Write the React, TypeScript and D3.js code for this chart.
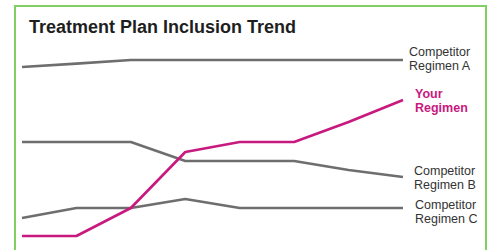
import React from 'react';
import * as d3 from 'd3';

const WIDTH = 489;
const HEIGHT = 250;

const periods = ['P1', 'P2', 'P3', 'P4', 'P5', 'P6', 'P7', 'P8'];
const competitorA = [91.5, 93.2, 95, 95, 95, 95, 95, 95];
const yourRegimen = [7, 7, 21, 49, 54, 54, 64, 75];
const competitorB = [54, 54, 54, 44.5, 44.5, 44.5, 40, 36.5];
const competitorC = [16, 21, 21, 25.5, 21, 21, 21, 21];

const GREY = '#6e6e6e';
const PINK = '#c8197f';

const series = [
  { name: 'Competitor A', values: competitorA, color: GREY, labels: ['Competitor', 'Regimen A'], bold: false, textColor: '#333', lx: 409, ly: 56 },
  { name: 'Competitor B', values: competitorB, color: GREY, labels: ['Competitor', 'Regimen B'], bold: false, textColor: '#333', lx: 414, ly: 175 },
  { name: 'Competitor C', values: competitorC, color: GREY, labels: ['Competitor', 'Regimen C'], bold: false, textColor: '#333', lx: 415, ly: 209 },
  { name: 'Your Regimen', values: yourRegimen, color: PINK, labels: ['Your', 'Regimen'], bold: true, textColor: PINK, lx: 415, ly: 98 },
];

const App = () => {
  const xScale = d3.scalePoint<number>().domain(periods.map((_, i) => i)).range([22, 403]);
  const yScale = d3.scaleLinear().domain([0, 100]).range([250, 50]);

  const line = d3
    .line<number>()
    .x((_, i) => xScale(i) as number)
    .y((d) => yScale(d));

  return (
    <svg width={WIDTH} height={HEIGHT} style={{ position: 'absolute', left: 0, top: 0 }}>
      <rect x={0} y={0} width={WIDTH} height={HEIGHT} fill="#fff" />
      <rect x={15} y={6} width={471} height={270} fill="none" stroke="#7fcf62" strokeWidth={2} />
      <text x={29} y={33} fontFamily="Liberation Sans, Arial, sans-serif" fontWeight="bold" fontSize={18} fill="#1e1e1e">
        Treatment Plan Inclusion Trend
      </text>
      {series.map((s) => (
        <path key={s.name} d={line(s.values) || ''} fill="none" stroke={s.color} strokeWidth={2.6} strokeLinejoin="round" />
      ))}
      {series.map((s) => (
        <text key={s.name + '-label'} fontFamily="Liberation Sans, Arial, sans-serif" fontSize={12.5} fontWeight={s.bold ? 'bold' : 'normal'} fill={s.textColor}>
          {s.labels.map((t, i) => (
            <tspan key={t} x={s.lx} y={s.ly + i * 13.5}>{t}</tspan>
          ))}
        </text>
      ))}
    </svg>
  );
};

export default App;
